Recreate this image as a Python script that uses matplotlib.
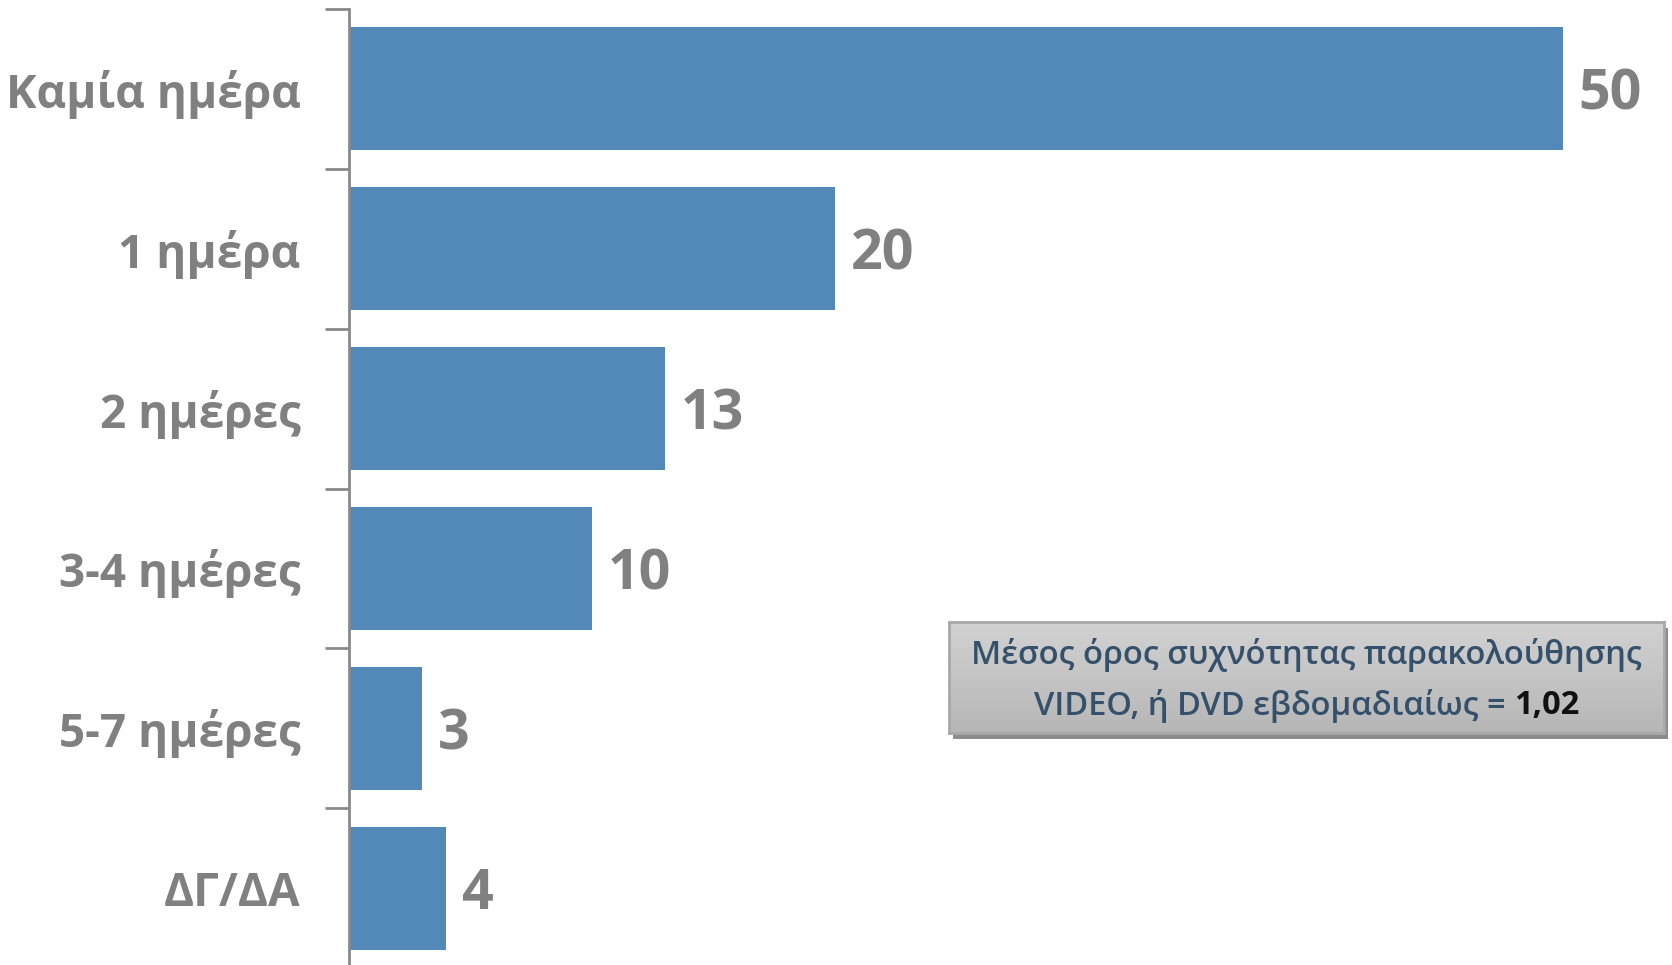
import numpy as np
import matplotlib
matplotlib.use("Agg")
import matplotlib.pyplot as plt
from matplotlib.patches import Rectangle

# data
categories = ["Καμία ημέρα", "1 ημέρα", "2 ημέρες", "3-4 ημέρες", "5-7 ημέρες", "ΔΓ/ΔΑ"]
values = [50, 20, 13, 10, 3, 4]
note_line1 = "Μέσος όρος συχνότητας παρακολούθησης"
note_line2 = "VIDEO, ή DVD εβδομαδιαίως = "
note_value = "1,02"

bar_color = "#5289b9"
grey = "#808080"
W, H = 1672, 965

plt.rcParams['font.family'] = ['Open Sans', 'DejaVu Sans']

fig = plt.figure(figsize=(W / 100, H / 100), dpi=100)
ax = fig.add_axes([349 / W, (H - 968) / H, (W - 349) / W, (968 - 9) / H])

y = np.arange(len(categories))
ax.barh(y, values, height=0.77, color=bar_color, zorder=2)
ax.set_ylim(len(categories) - 0.5, -0.5)
ax.set_xlim(0, (W - 349) / 24.28)

for yi, v in zip(y, values):
    ax.text(v + 0.65, yi, str(v), va="center_baseline", ha="left", fontsize=40,
            fontweight="bold", color=grey)

# category boundaries as ticks
ax.set_yticks(np.arange(-0.5, len(categories) + 0.5, 1))
ax.set_yticklabels([])
ax.set_yticks(y, minor=True)
ax.set_yticklabels(categories, minor=True, fontsize=33, fontweight="bold", color=grey,
                   va="center_baseline")
ax.tick_params(axis="y", which="major", length=17, width=2, color="#8a8a8a")
ax.tick_params(axis="y", which="minor", length=0, pad=35)
ax.set_xticks([])
for s in ["top", "right", "bottom"]:
    ax.spines[s].set_visible(False)
ax.spines["left"].set_color("#8a8a8a")
ax.spines["left"].set_linewidth(2)

# note box with a drop shadow
bx0, bx1, by0, by1 = 949, 1664, 622, 733
shadow = Rectangle(((bx0 + 4) / W, (H - by1 - 6) / H), (bx1 - bx0) / W, (by1 - by0) / H,
                   transform=fig.transFigure, facecolor="#8c8c8c", edgecolor="none",
                   zorder=1)
fig.add_artist(shadow)
gax = fig.add_axes([bx0 / W, (H - by1) / H, (bx1 - bx0) / W, (by1 - by0) / H])
gax.set_zorder(2)
grad = np.linspace(0, 1, 100).reshape(-1, 1)
gax.imshow(grad, aspect="auto", cmap=matplotlib.colors.LinearSegmentedColormap.from_list(
    "g", ["#d2d2d2", "#c4c4c4", "#b6b6b6"]), extent=[0, 1, 0, 1])
gax.set_xticks([])
gax.set_yticks([])
for s in gax.spines.values():
    s.set_color("#a8a8a8")
    s.set_linewidth(2)

cx = (bx0 + bx1) / 2 / W
fig.text(cx, 1 - 655 / H, note_line1, ha="center", va="center", fontsize=23.5,
         color="#34506b", fontweight="semibold", zorder=3)
t2 = fig.text(0, 1 - 706 / H, note_line2, ha="left", va="center", fontsize=23.5,
              color="#34506b", fontweight="semibold", zorder=3)
t3 = fig.text(0, 1 - 706 / H, note_value, ha="left", va="center", fontsize=23.5,
              color="#111111", fontweight="bold", zorder=3)
fig.canvas.draw()
r = fig.canvas.get_renderer()
w2 = t2.get_window_extent(r).width
w3 = t3.get_window_extent(r).width
start = cx * W - (w2 + w3) / 2
t2.set_x(start / W)
t3.set_x((start + w2) / W)

fig.savefig("out.png", dpi=100)
